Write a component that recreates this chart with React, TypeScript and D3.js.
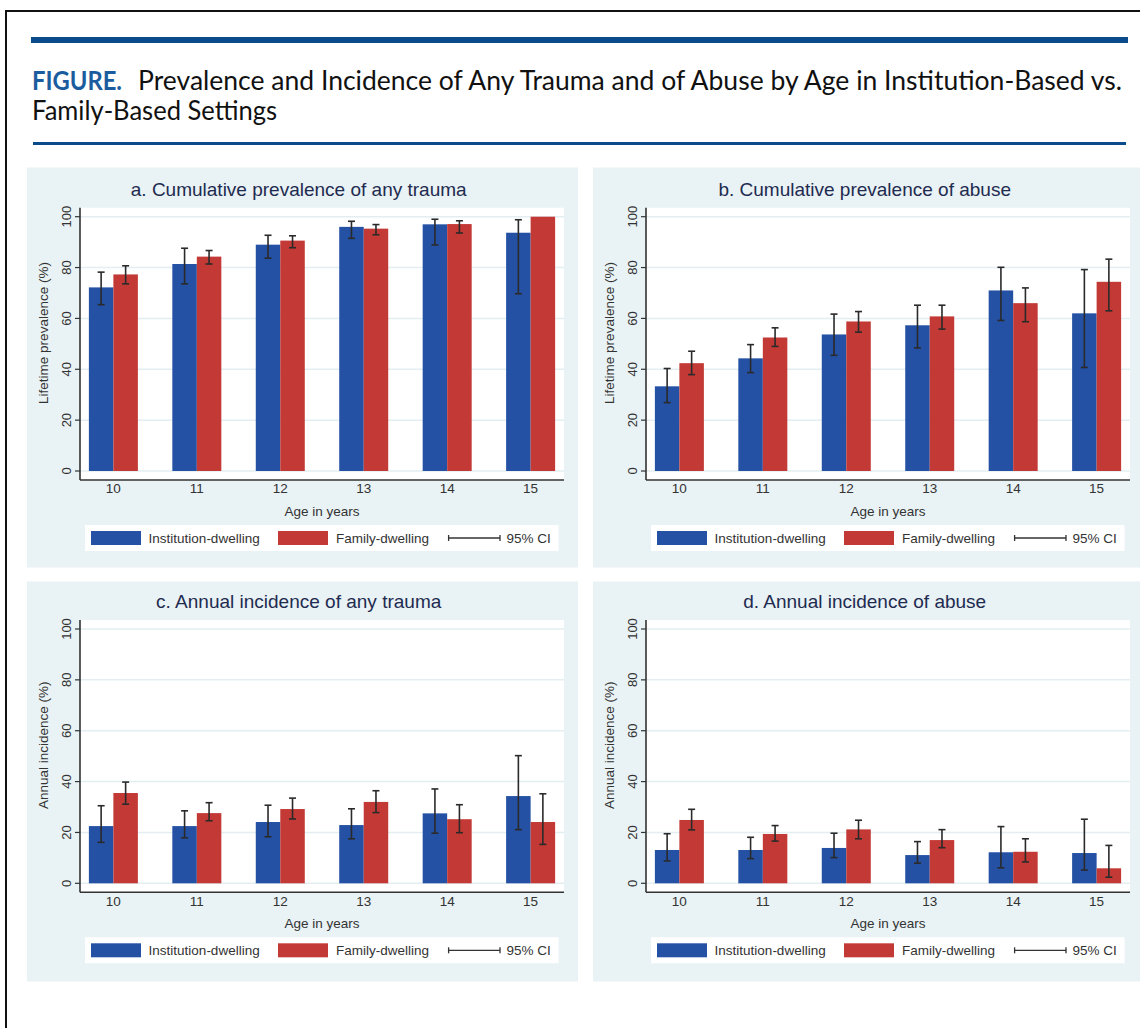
import React from 'react';
import * as d3 from 'd3';

// ---------- data ----------
const ages = ['10', '11', '12', '13', '14', '15'];
const seriesNames = ['Institution-dwelling', 'Family-dwelling'];
const yTicks = [0, 20, 40, 60, 80, 100];

// a. Cumulative prevalence of any trauma
const aInst = [72.2, 81.4, 89.0, 96.0, 97.0, 93.7];
const aInstLo = [65.4, 73.6, 83.7, 91.5, 88.9, 69.7];
const aInstHi = [78.2, 87.6, 92.7, 98.2, 99.0, 98.8];
const aFam = [77.3, 84.3, 90.6, 95.3, 97.1, 100];
const aFamLo = [73.6, 81.4, 87.8, 92.9, 93.6, null];
const aFamHi = [80.7, 86.7, 92.5, 96.9, 98.4, null];

// b. Cumulative prevalence of abuse
const bInst = [33.3, 44.3, 53.7, 57.3, 71.0, 62.0];
const bInstLo = [26.9, 38.7, 45.5, 48.4, 59.2, 40.7];
const bInstHi = [40.3, 49.7, 61.7, 65.2, 80.1, 79.2];
const bFam = [42.4, 52.5, 58.8, 60.8, 66.0, 74.4];
const bFamLo = [37.9, 49.0, 54.6, 55.8, 58.7, 63.0];
const bFamHi = [47.1, 56.3, 62.7, 65.2, 72.0, 83.3];

// c. Annual incidence of any trauma
const cInst = [22.5, 22.5, 24.1, 22.9, 27.5, 34.3];
const cInstLo = [16.1, 17.9, 18.3, 17.5, 19.7, 21.1];
const cInstHi = [30.5, 28.5, 30.7, 29.3, 37.1, 50.2];
const cFam = [35.5, 27.6, 29.2, 32.0, 25.2, 24.1];
const cFamLo = [31.1, 24.6, 25.3, 27.8, 19.9, 15.3];
const cFamHi = [39.8, 31.7, 33.5, 36.4, 30.9, 35.2];

// d. Annual incidence of abuse
const dInst = [13.1, 13.1, 13.9, 11.1, 12.2, 11.9];
const dInstLo = [8.8, 9.7, 10.1, 7.9, 6.1, 5.2];
const dInstHi = [19.5, 18.1, 19.7, 16.4, 22.3, 25.2];
const dFam = [24.9, 19.4, 21.2, 17.0, 12.4, 5.9];
const dFamLo = [21.0, 16.6, 17.5, 14.0, 8.4, 2.4];
const dFamHi = [29.1, 22.7, 24.8, 21.1, 17.5, 14.9];

const panelTitles = [
  'a. Cumulative prevalence of any trauma',
  'b. Cumulative prevalence of abuse',
  'c. Annual incidence of any trauma',
  'd. Annual incidence of abuse',
];
const yTitles = ['Lifetime prevalence (%)', 'Lifetime prevalence (%)', 'Annual incidence (%)', 'Annual incidence (%)'];
const xTitle = 'Age in years';
const ciLabel = '95% CI';

const figLabel = 'FIGURE.';
const figTitle1 = 'Prevalence and Incidence of Any Trauma and of Abuse by Age in Institution-Based vs.';
const figTitle2 = 'Family-Based Settings';

// ---------- styles ----------
const BLUE = '#2451a4';
const RED = '#c33935';
const PANEL_BG = '#e9f2f4';
const GRID = '#e4eef1';
const AXIS = '#333333';
const RULE = '#0a4b8c';
const FONT = '"Liberation Sans", Arial, sans-serif';
const TFONT = 'Lato, "Noto Sans", sans-serif';

type Series = { v: number[]; lo: (number | null)[]; hi: (number | null)[] };

const panels = [
  { x0: 27, row: 0, inst: { v: aInst, lo: aInstLo, hi: aInstHi }, fam: { v: aFam, lo: aFamLo, hi: aFamHi } },
  { x0: 593, row: 0, inst: { v: bInst, lo: bInstLo, hi: bInstHi }, fam: { v: bFam, lo: bFamLo, hi: bFamHi } },
  { x0: 27, row: 1, inst: { v: cInst, lo: cInstLo, hi: cInstHi }, fam: { v: cFam, lo: cFamLo, hi: cFamHi } },
  { x0: 593, row: 1, inst: { v: dInst, lo: dInstLo, hi: dInstHi }, fam: { v: dFam, lo: dFamLo, hi: dFamHi } },
];

const rows = [
  { bgTop: 167.5, y100: 216.7, y0: 471 },
  { bgTop: 581.5, y100: 629, y0: 883.3 },
];

function Panel({ p, idx }: { p: any; idx: number }) {
  const r = rows[p.row];
  const x0 = p.x0;
  const pw = 551;
  const ph = 400;
  const plotL = x0 + 53;
  const plotR = x0 + 537;
  const plotTop = r.y100 - 9;
  const axisY = r.y0 + 9;
  const y = d3.scaleLinear().domain([0, 100]).range([r.y0, r.y100]);
  const x = d3.scalePoint<string>().domain(ages).range([plotL, plotR]).padding(0.4);
  const bw = 24.5;

  const series: { s: Series; color: string; off: number }[] = [
    { s: p.inst, color: BLUE, off: -bw },
    { s: p.fam, color: RED, off: 0 },
  ];

  const legTop = r.y0 + 54;
  const legH = 26;
  const legMid = legTop + legH / 2;

  return (
    <g>
      <rect x={x0} y={r.bgTop} width={pw} height={ph} fill={PANEL_BG} />
      <text x={x0 + 271.7} y={r.y100 - 28 + 6.8} textAnchor="middle" fontFamily={FONT} fontSize={19} fill="#1e2b50">
        {panelTitles[idx]}
      </text>
      <rect x={plotL} y={plotTop} width={plotR - plotL} height={axisY - plotTop} fill="#ffffff" />
      {yTicks.map((t) => (
        <line key={'g' + t} x1={plotL} x2={plotR} y1={y(t)} y2={y(t)} stroke={GRID} strokeWidth={1.5} />
      ))}
      {/* bars */}
      {series.map((se, si) =>
        ages.map((a, i) => (
          <rect
            key={'b' + si + a}
            x={(x(a) as number) + se.off}
            y={y(se.s.v[i])}
            width={bw}
            height={y(0) - y(se.s.v[i])}
            fill={se.color}
          />
        ))
      )}
      {/* CI whiskers */}
      {series.map((se, si) =>
        ages.map((a, i) => {
          const lo = se.s.lo[i];
          const hi = se.s.hi[i];
          if (lo == null || hi == null) return null;
          const cx = (x(a) as number) + se.off + bw / 2;
          return (
            <g key={'e' + si + a} stroke="#2a2a2a" strokeWidth={1.6}>
              <line x1={cx} x2={cx} y1={y(lo)} y2={y(hi)} />
              <line x1={cx - 3.5} x2={cx + 3.5} y1={y(lo)} y2={y(lo)} />
              <line x1={cx - 3.5} x2={cx + 3.5} y1={y(hi)} y2={y(hi)} />
            </g>
          );
        })
      )}
      {/* axes */}
      <line x1={plotL} x2={plotL} y1={plotTop} y2={axisY} stroke={AXIS} strokeWidth={1.6} />
      <line x1={plotL} x2={plotR} y1={axisY} y2={axisY} stroke={AXIS} strokeWidth={1.6} />
      {yTicks.map((t) => (
        <g key={'t' + t}>
          <line x1={plotL - 5} x2={plotL} y1={y(t)} y2={y(t)} stroke={AXIS} strokeWidth={1.2} />
          <text
            transform={`translate(${x0 + 39 + 4.6},${y(t)}) rotate(-90)`}
            textAnchor="middle"
            fontFamily={FONT}
            fontSize={13}
            fill="#333"
          >
            {t}
          </text>
        </g>
      ))}
      <text
        transform={`translate(${x0 + 16.5 + 4.8},${r.y0 - 138}) rotate(-90)`}
        textAnchor="middle"
        fontFamily={FONT}
        fontSize={13.5}
        fill="#333"
      >
        {yTitles[idx]}
      </text>
      {ages.map((a) => (
        <text key={'x' + a} x={x(a)} y={r.y0 + 17.5 + 4.8} textAnchor="middle" fontFamily={FONT} fontSize={13.5} fill="#333">
          {a}
        </text>
      ))}
      <text x={(plotL + plotR) / 2} y={r.y0 + 39.7 + 4.8} textAnchor="middle" fontFamily={FONT} fontSize={13.5} fill="#333">
        {xTitle}
      </text>
      {/* legend */}
      <rect x={x0 + 58} y={legTop} width={473.6} height={legH} fill="#ffffff" />
      <rect x={x0 + 64} y={legMid - 7} width={50} height={14} fill={BLUE} />
      <text x={x0 + 121.6} y={legMid + 4.8} fontFamily={FONT} fontSize={13.5} fill="#333">
        {seriesNames[0]}
      </text>
      <rect x={x0 + 251} y={legMid - 7} width={50} height={14} fill={RED} />
      <text x={x0 + 309} y={legMid + 4.8} fontFamily={FONT} fontSize={13.5} fill="#333">
        {seriesNames[1]}
      </text>
      <g stroke="#333" strokeWidth={1.3}>
        <line x1={x0 + 421.6} x2={x0 + 473} y1={legMid} y2={legMid} />
        <line x1={x0 + 421.6} x2={x0 + 421.6} y1={legMid - 3} y2={legMid + 3} />
        <line x1={x0 + 473} x2={x0 + 473} y1={legMid - 3} y2={legMid + 3} />
      </g>
      <text x={x0 + 479.4} y={legMid + 4.8} fontFamily={FONT} fontSize={13.5} fill="#333">
        {ciLabel}
      </text>
    </g>
  );
}

export default function App() {
  return (
    <svg
      width={1140}
      height={1028}
      style={{ position: 'absolute', left: 0, top: 0, background: '#ffffff' }}
      xmlns="http://www.w3.org/2000/svg"
    >
      <rect x={0} y={0} width={1140} height={1028} fill="#ffffff" />
      {/* frame */}
      <line x1={6} x2={1140} y1={11} y2={11} stroke="#111" strokeWidth={2} />
      <line x1={6} x2={6} y1={10} y2={1028} stroke="#111" strokeWidth={2} />
      {/* rules */}
      <rect x={31} y={37} width={1097} height={6} fill={RULE} />
      <rect x={33} y={142} width={1093} height={3} fill={RULE} />
      {/* figure title */}
      <text x={32} y={89.5} fontFamily={TFONT} fontSize={26} fontWeight={700} fill="#1b5c9e" textLength={90} lengthAdjust="spacingAndGlyphs">
        {figLabel}
      </text>
      <text x={138} y={89.5} fontFamily={TFONT} fontSize={26} fill="#111" textLength={984} lengthAdjust="spacingAndGlyphs">
        {figTitle1}
      </text>
      <text x={32} y={119.5} fontFamily={TFONT} fontSize={26} fill="#111" textLength={245} lengthAdjust="spacingAndGlyphs">
        {figTitle2}
      </text>
      {panels.map((p, i) => (
        <Panel key={i} p={p} idx={i} />
      ))}
    </svg>
  );
}
